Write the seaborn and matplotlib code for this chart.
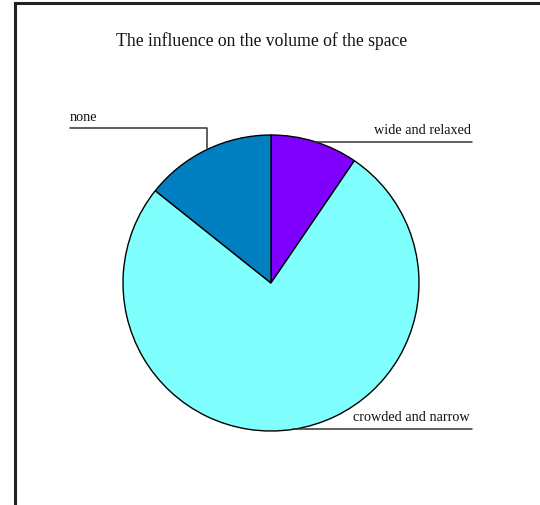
import numpy as np
import matplotlib
matplotlib.use("Agg")
import matplotlib.pyplot as plt
import seaborn as sns

# Survey answers: how the space feels
categories = ["wide and relaxed", "crowded and narrow", "none"]
counts = [2, 16, 3]
colors = ["#8000FF", "#80FFFF", "#0080C0"]
title = "The influence on the volume of the space"

sns.set_theme(style="white")
plt.rcParams["font.family"] = ["Liberation Serif", "DejaVu Serif"]

W, H = 540, 505
fig = plt.figure(figsize=(W / 100, H / 100), dpi=100)
ax = fig.add_axes([0, 0, 1, 1])

cx, cy, r = 271, H - 283, 148
wedges, _ = ax.pie(counts, colors=sns.color_palette(colors), startangle=90,
                   counterclock=False, center=(cx, cy), radius=r,
                   wedgeprops=dict(edgecolor="black", linewidth=1.0),
                   frame=True)
ax.set_xlim(0, W)
ax.set_ylim(0, H)
ax.set_aspect("equal")
ax.axis("off")

# chart frame (top and left edges)
ax.plot([14.5, 14.5], [0, H - 2.5], color="#222222", lw=2.2, solid_capstyle="projecting")
ax.plot([14.5, W], [H - 2.5, H - 2.5], color="#222222", lw=2.2, solid_capstyle="projecting")

ax.text(262, H - 41, title, ha="center", va="center", fontsize=12.7, color="#111111")

def mid_point(w):
    a = np.deg2rad((w.theta1 + w.theta2) / 2)
    return cx + r * np.cos(a), cy + r * np.sin(a)

lc = "#333333"
fs = 10.3
# wide and relaxed
x0, y0 = mid_point(wedges[0])
ax.plot([x0, 472], [y0, y0], color=lc, lw=1.1)
ax.text(471, y0 + 8, categories[0], ha="right", va="baseline", fontsize=fs, color="#111111")
# crowded and narrow
x1, y1 = mid_point(wedges[1])
ax.plot([x1, 472], [y1, y1], color=lc, lw=1.1)
ax.text(470, y1 + 8, categories[1], ha="right", va="baseline", fontsize=fs, color="#111111")
# none
x2, y2 = mid_point(wedges[2])
ly = H - 128
ax.plot([70, x2, x2], [ly, ly, y2], color=lc, lw=1.1)
ax.text(70, ly + 7, categories[2], ha="left", va="baseline", fontsize=fs, color="#111111")

fig.savefig("out.png", dpi=100, facecolor="white")
